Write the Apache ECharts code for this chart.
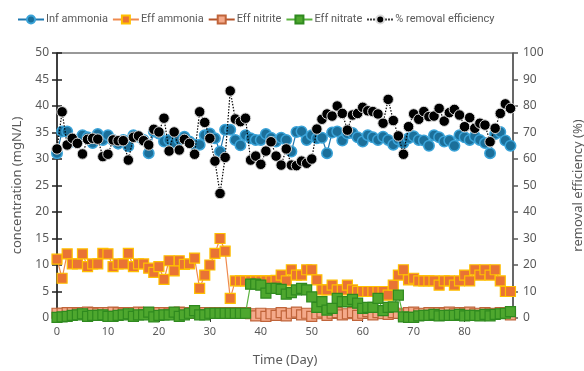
<!DOCTYPE html>
<html><head><meta charset="utf-8">
<script src="https://cdn.jsdelivr.net/npm/echarts@6/dist/echarts.min.js"></script>
<style>html,body{margin:0;padding:0;background:#fff}#c{width:584px;height:371px}</style>
</head><body><div id="c"></div>
<script>
var days = [0,1,2,3,4,5,6,7,8,9,10,11,12,13,14,15,16,17,18,19,20,21,22,23,24,25,26,27,28,29,30,31,32,33,34,35,36,37,38,39,40,41,42,43,44,45,46,47,48,49,50,51,52,53,54,55,56,57,58,59,60,61,62,63,64,65,66,67,68,69,70,71,72,73,74,75,76,77,78,79,80,81,82,83,84,85,86,87,88,89];
var infAmmonia = [31.1,35.2,35.2,33.3,33.5,34.5,34.1,33.0,34.7,33.6,34.5,33.6,32.9,33.6,32.4,34.5,34.2,33.6,31.1,35.2,34.8,33.3,33.6,33.0,33.7,34.2,33.3,32.7,32.7,34.5,34.8,33.9,31.4,35.5,35.5,33.6,32.6,34.5,33.9,33.6,33.6,34.7,34.0,33.3,34.0,33.6,31.4,35.1,35.2,33.6,34.5,33.9,34.0,31.1,35.0,35.2,33.5,34.8,34.9,34.1,33.3,34.5,34.1,33.6,34.2,33.6,32.7,33.7,33.0,33.9,34.3,33.6,33.5,32.5,34.5,34.1,33.3,33.5,32.5,34.5,34.1,33.6,34.3,33.6,33.0,31.1,34.7,35.1,33.5,32.5];
var effAmmonia = [11.1,7.5,12.1,10.2,10.2,12.1,9.7,10.2,10.2,12.2,12.1,9.7,10.2,10.2,12.2,9.7,10.2,10.2,9.4,8.6,9.7,7.3,10.8,8.9,10.8,10.1,10.2,11.3,5.6,8.1,10.0,12.2,15.0,12.6,3.7,7.0,7.0,7.0,7.0,7.0,7.0,7.0,7.0,7.1,8.1,7.0,9.1,8.1,8.1,9.1,9.1,7.2,5.3,5.3,6.2,5.3,5.3,6.2,5.3,5.0,5.0,5.0,5.0,5.0,5.0,4.3,6.2,8.1,9.1,7.2,7.5,7.0,7.0,7.0,7.0,6.2,7.0,7.0,6.2,7.0,8.1,7.0,9.1,8.1,9.1,8.1,9.1,7.0,5.0,5.0];
var effNitrite = [0.9,0.9,1.0,1.0,0.9,1.0,1.1,1.0,0.9,1.0,1.0,1.1,1.0,0.9,1.0,1.0,1.1,1.0,1.0,0.9,1.0,1.0,0.9,1.0,1.1,1.0,1.0,0.9,1.0,1.0,0.9,1.0,1.0,0.9,1.0,1.0,0.9,1.0,0.8,0.4,0.9,0.3,0.8,0.5,1.0,0.4,0.9,1.1,0.6,0.9,0.3,0.8,1.1,0.5,0.9,1.0,0.6,0.8,1.0,0.5,0.9,1.2,0.6,1.0,0.8,0.7,1.0,0.9,0.6,1.0,1.1,0.8,0.9,1.0,0.7,1.0,0.9,1.1,0.8,1.0,0.9,1.1,0.8,0.9,1.0,0.9,0.8,1.0,0.9,0.6];
var effNitrate = [0.1,0.2,0.3,0.5,0.6,0.8,0.3,0.5,0.5,0.6,0.3,0.3,0.5,0.6,0.8,0.3,0.6,0.6,1.1,0.2,0.5,0.6,0.6,1.1,0.3,0.6,0.9,1.4,0.6,0.6,0.9,0.9,0.9,0.9,0.9,0.9,0.9,0.9,6.4,6.4,6.2,4.7,5.6,5.6,5.4,4.5,4.8,5.3,5.6,5.3,4.0,2.0,3.1,1.5,1.8,3.7,3.1,3.1,3.5,2.8,1.8,2.0,2.0,3.7,1.4,2.0,2.1,4.3,0.2,0.1,0.1,0.4,0.5,0.5,0.7,0.4,0.5,0.5,0.5,0.7,0.4,0.5,0.5,0.4,0.7,0.4,0.7,0.8,0.9,1.2];
var removal = [63.8,77.8,65.3,67.8,65.9,61.9,67.4,67.8,67.5,60.9,61.8,67.2,66.9,66.9,59.6,68.2,68.7,66.9,65.3,71.2,70.2,75.4,63.0,70.2,63.4,67.4,65.9,61.8,77.8,73.8,67.8,59.2,47.0,60.6,85.7,75.1,74.1,75.4,59.6,61.1,58.0,63.0,66.5,61.1,57.7,63.8,57.7,57.5,59.2,58.4,60.0,71.3,75.0,77.0,76.2,80.0,77.2,70.9,76.6,77.2,79.5,78.2,77.9,77.0,73.5,82.5,74.5,68.7,61.8,72.2,77.0,75.0,77.9,76.0,76.2,79.1,74.3,77.5,78.7,76.6,72.2,75.6,71.6,73.5,72.8,66.5,71.6,77.2,80.8,79.1];
var seriesNames = ['Inf ammonia','Eff ammonia','Eff nitrite','Eff nitrate','% removal efficiency'];

function pairs(vals){ return days.map(function(d,i){ return [d, vals[i]]; }); }
var FONT = 'Noto Sans';
var TXT = '#595959';
var chart = echarts.init(document.getElementById('c'), null, {renderer:'canvas'});
chart.setOption({
  animation:false,
  backgroundColor:'#fff',
  textStyle:{fontFamily:FONT},
  legend:{
    top:9, left:12, itemWidth:26, itemHeight:10, itemGap:4,
    textStyle:{fontFamily:'Roboto', fontSize:11, color:TXT, padding:[0,0,0,-3]},
    data:seriesNames
  },
  grid:{left:57, right:71, top:53, bottom:53, outerBoundsMode:'none', containLabel:false,
        show:true, borderColor:'#333', borderWidth:1, backgroundColor:'transparent'},
  xAxis:{
    type:'value', min:0, max:89.5, interval:10,
    name:'Time (Day)', nameLocation:'middle', nameGap:36,
    nameTextStyle:{fontFamily:FONT, fontSize:13, color:TXT},
    axisLine:{show:true, lineStyle:{color:'#333'}},
    axisTick:{show:true, length:4, lineStyle:{color:'#333'}},
    axisLabel:{fontFamily:FONT, fontSize:11, color:TXT, margin:8, showMaxLabel:false},
    splitLine:{show:false}
  },
  yAxis:[{
    type:'value', min:0, max:50, interval:5, position:'left',
    name:'concentration (mgN/L)', nameLocation:'middle', nameGap:33, nameRotate:90,
    nameTextStyle:{fontFamily:FONT, fontSize:13, color:TXT},
    axisLine:{show:true, lineStyle:{color:'#222', width:1.5}},
    axisTick:{show:true, length:5, lineStyle:{color:'#222', width:1.5}},
    axisLabel:{fontFamily:FONT, fontSize:12, color:TXT, margin:8},
    splitLine:{show:false}
  },{
    type:'value', min:0, max:100, interval:10, position:'right',
    name:'removal efficiency (%)', nameLocation:'middle', nameGap:59, nameRotate:90,
    nameTextStyle:{fontFamily:FONT, fontSize:13, color:TXT},
    axisLine:{show:true, lineStyle:{color:'#595959', width:1.5}},
    axisTick:{show:true, length:5, lineStyle:{color:'#595959', width:1.5}},
    axisLabel:{fontFamily:FONT, fontSize:12, color:TXT, margin:10},
    splitLine:{show:false}
  },{
    type:'value', min:0, max:50, interval:5, position:'left',
    axisLine:{show:false},
    axisTick:{show:true, inside:true, length:5, lineStyle:{color:'#222', width:1.5}},
    axisLabel:{show:false}, splitLine:{show:false}
  }],
  series:[{
    name:seriesNames[0], type:'line', yAxisIndex:0, data:pairs(infAmmonia),
    symbol:'circle', symbolSize:10.5, z:2,
    lineStyle:{color:'#1f78b0', width:1.2},
    itemStyle:{color:'#1b6f9a', borderColor:'#3aa3d8', borderWidth:1.5}
  },{
    name:seriesNames[1], type:'line', yAxisIndex:0, data:pairs(effAmmonia),
    symbol:'rect', symbolSize:10, z:3,
    lineStyle:{color:'#ef8a4e', width:1.2},
    itemStyle:{color:'#e97334', borderColor:'#ffc000', borderWidth:1.2}
  },{
    name:seriesNames[2], type:'line', yAxisIndex:0, data:pairs(effNitrite),
    symbol:'rect', symbolSize:10, z:4,
    lineStyle:{color:'#b4542a', width:1.2},
    itemStyle:{color:'#f4a98a', borderColor:'#c0643a', borderWidth:1.2}
  },{
    name:seriesNames[3], type:'line', yAxisIndex:0, data:pairs(effNitrate),
    symbol:'rect', symbolSize:10, z:5,
    lineStyle:{color:'#5ab23e', width:1.2},
    itemStyle:{color:'#4ea72e', borderColor:'#2f8a1f', borderWidth:1.2}
  },{
    name:seriesNames[4], type:'line', yAxisIndex:1, data:pairs(removal),
    symbol:'circle', symbolSize:10.5, z:6,
    lineStyle:{color:'#000', width:1.2, type:[1.5,1.5]},
    itemStyle:{color:'#000', borderColor:'#d9d9d9', borderWidth:1}
  }]
});
</script></body></html>
